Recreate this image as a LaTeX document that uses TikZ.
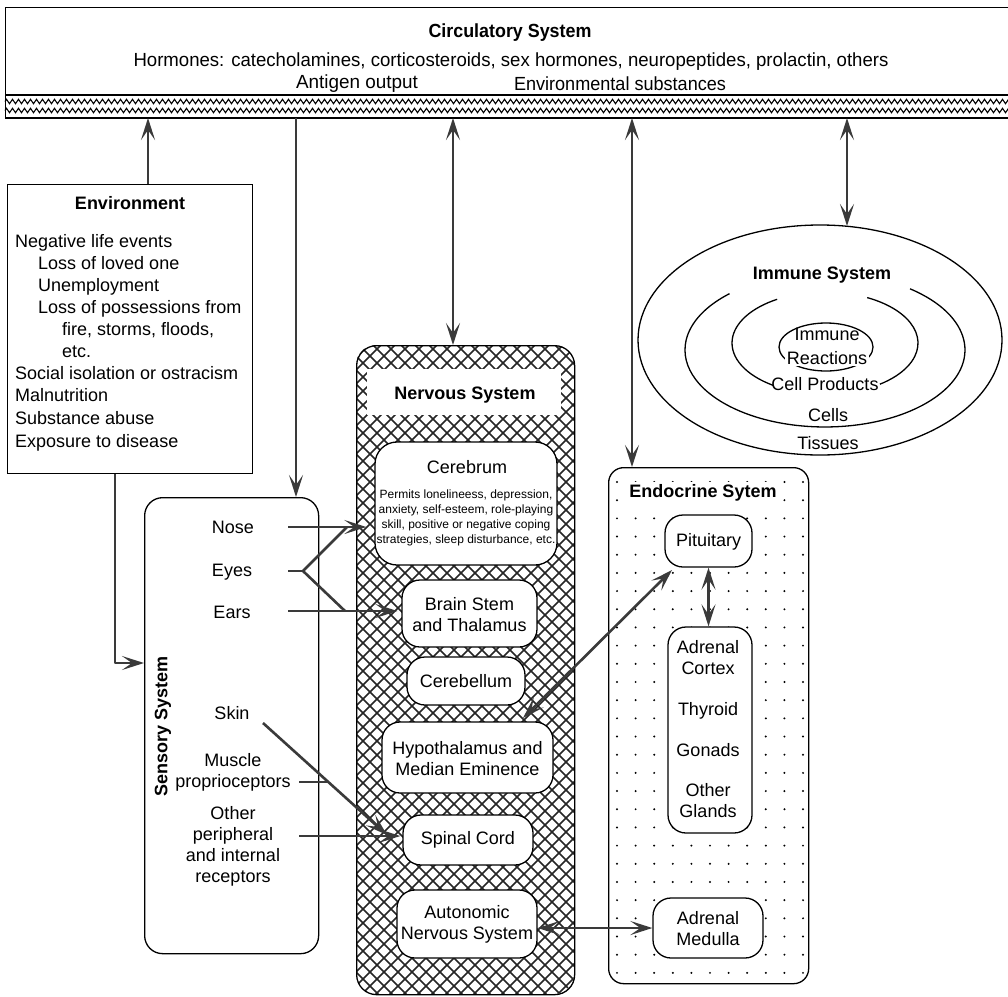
\documentclass[tikz,border=0pt]{standalone}
\usepackage{graphicx}
\usepackage{fontspec}
\setmainfont{Liberation Sans}
\usetikzlibrary{arrows.meta,shapes.geometric,decorations.pathmorphing,calc}
\definecolor{conncol}{HTML}{3A3A3A}
\begin{document}
\begin{tikzpicture}[x=1pt,y=-1pt,
  frame/.style={draw=black, line width=1.3pt, inner sep=0pt},
  box/.style={draw=black, line width=1.3pt, fill=white, rounded corners=18pt, inner sep=0pt},
  tip/.tip={Stealth[length=22pt,width=14pt,inset=10pt]},
  conn/.style={draw=conncol, line width=2.6pt, line join=round, -tip},
  biconn/.style={draw=conncol, line width=2.6pt, tip-tip},
  plain/.style={draw=conncol, line width=2.6pt, line join=round},
  lbl/.style={font=\fontsize{18}{21}\selectfont, inner sep=0pt, align=center},
  ttl/.style={font=\bfseries\fontsize{18}{21}\selectfont, inner sep=0pt},
  small/.style={font=\fontsize{12}{15}\selectfont, inner sep=0pt, align=center},
  envtxt/.style={font=\fontsize{18}{21}\selectfont, inner sep=0pt, anchor=base west},
]
\useasboundingbox (0,0) rectangle (1008,996);
\fill[white] (0,0) rectangle (1008,996);

% ---------------- Circulatory system ----------------
\node[frame, anchor=north west, minimum width=1010pt, minimum height=111pt] (circ) at (5,7) {};
\draw[line width=1.3pt] (5,95) -- (1012,95);
\draw[line width=1.1pt, decorate, decoration={zigzag, segment length=6pt, amplitude=2.2pt}] (5,101.5) -- (1012,101.5);
\draw[line width=1.1pt, decorate, decoration={zigzag, segment length=6pt, amplitude=2.2pt}] (5,110.5) -- (1012,110.5);
\draw[line width=1.8pt] (5,118) -- (1012,118);
\node[ttl] (ct) at (510,33) {\resizebox{163pt}{\height}{\fontsize{19}{21}\selectfont Circulatory System}};
\node[lbl] (ch) at (511,62) {\resizebox{755pt}{\height}{\fontsize{19}{21}\selectfont Hormones: catecholamines, corticosteroids, sex hormones, neuropeptides, prolactin, others}};
\node[lbl] (ca) at (357,84) {\resizebox{122pt}{\height}{\fontsize{19}{21}\selectfont Antigen output}};
\node[lbl] (ce) at (620,84) {\resizebox{212pt}{\height}{\fontsize{19}{21}\selectfont Environmental substances}};

\coordinate (b1) at (148,118);
\coordinate (b2) at (296,118);
\coordinate (b3) at (453,118);
\coordinate (b4) at (632,118);
\coordinate (b5) at (847,118);

% ---------------- Environment ----------------
\node[frame, fill=white, anchor=north west, minimum width=245pt, minimum height=289pt] (env) at (7,184) {};
\node[ttl] (envt) at (130,203) {Environment};
\node[envtxt] (e1) at (15,247) {Negative life events};
\node[envtxt] (e2) at (38,269) {Loss of loved one};
\node[envtxt] (e3) at (38,291) {Unemployment};
\node[envtxt] (e4) at (38,313) {Loss of possessions from};
\node[envtxt] (e5) at (62,335) {fire, storms, floods,};
\node[envtxt] (e6) at (62,357) {etc.};
\node[envtxt] (e7) at (15,379) {Social isolation or ostracism};
\node[envtxt] (e8) at (15,401) {Malnutrition};
\node[envtxt] (e9) at (15,424) {Substance abuse};
\node[envtxt] (e10) at (15,447) {Exposure to disease};

% ---------------- Sensory system ----------------
\node[box, anchor=north west, minimum width=174pt, minimum height=456pt] (sens) at (144,497) {};
\node[ttl, rotate=90] (senst) at (163,726) {Sensory System};
\node[lbl] (nose) at (233,527) {Nose};
\node[lbl] (eyes) at (232,572) {Eyes};
\node[lbl] (ears) at (232,612) {Ears};
\node[lbl] (skin) at (232,713) {Skin};
\node[lbl] (muscle) at (233,772) {Muscle\\proprioceptors};
\node[lbl] (other) at (233,846) {Other\\peripheral\\and internal\\receptors};

% ---------------- Nervous system ----------------
\begin{scope}
  \clip[rounded corners=20pt] (356,345) rectangle (574,994);
  \foreach \c in {-644,-630,...,232} {
    \draw[black!85, line width=1.6pt] (\c+345,345) -- (\c+995,995);
  }
  \foreach \d in {698,712,...,1572} {
    \draw[black!85, line width=1.6pt] (\d-345,345) -- (\d-995,995);
  }
\end{scope}
\node[frame, rounded corners=20pt, anchor=north west, minimum width=218pt, minimum height=649pt] (nerv) at (356,345) {};
\node[fill=white, inner sep=0pt, minimum width=194pt, minimum height=46pt] (nervbg) at (464,392) {};
\node[ttl] (nervt) at (465,395) {Nervous System};

\node[box, rounded corners=22pt, minimum width=182pt, minimum height=123pt] (cereb) at (466,503.5) {};
\node[lbl] (cerebt) at (467,467) {Cerebrum};
\node[small] (cerebs) at (466,517.5) {Permits lonelineess, depression,\\anxiety, self-esteem, role-playing\\skill, positive or negative coping\\strategies, sleep disturbance, etc.};

\node[box, minimum width=135pt, minimum height=67pt] (brain) at (469.5,613.5) {};
\node[lbl] (braint) at (469.5,615) {Brain Stem\\and Thalamus};

\node[box, minimum width=118pt, minimum height=48pt] (cbl) at (466,681) {};
\node[lbl] (cblt) at (466,681) {Cerebellum};

\node[box, minimum width=171pt, minimum height=71pt] (hypo) at (467.5,757.5) {};
\node[lbl] (hypot) at (467.5,759) {Hypothalamus and\\Median Eminence};

\node[box, minimum width=130pt, minimum height=50pt] (spinal) at (468,840) {};
\node[lbl] (spinalt) at (468,840) {Spinal Cord};

\node[box, minimum width=140pt, minimum height=68pt] (auto) at (467,924) {};
\node[lbl] (autot) at (467,924) {Autonomic\\Nervous System};

% ---------------- Endocrine system ----------------
\begin{scope}
  \clip[rounded corners=15pt] (608,467) rectangle (808,983);
  \foreach \i in {0,...,10} {
    \foreach \j in {0,...,27} {
      \fill (617+\i*18.6, 482+\j*18.18) circle (1.1pt);
    }
  }
\end{scope}
\node[frame, rounded corners=15pt, anchor=north west, minimum width=200pt, minimum height=516pt] (endo) at (608,467) {};
\node[ttl, fill=white, inner xsep=6pt, inner ysep=3pt] (endot) at (703,493) {Endocrine Sytem};

\node[box, minimum width=87pt, minimum height=52pt] (pit) at (708.5,541) {};
\node[lbl] (pitt) at (708.5,542) {Pituitary};

\node[box, minimum width=84pt, minimum height=206pt] (gl) at (710,730) {};
\node[lbl] (glt) at (708,729) {Adrenal\\Cortex\\[20pt]Thyroid\\[20pt]Gonads\\[19pt]Other\\Glands};

\node[box, minimum width=110pt, minimum height=60pt] (med) at (708,928) {};
\node[lbl] (medt) at (708,929) {Adrenal\\Medulla};

% ---------------- Immune system ----------------
\node[draw, ellipse, line width=1.3pt, inner sep=0pt, minimum width=364pt, minimum height=230pt] (imm) at (820,340) {};
\draw[line width=1.3pt] (910,288.8) arc[start angle=-52.6, end angle=227, x radius=140, y radius=77];
\draw[line width=1.3pt] (867.2,297.6) arc[start angle=-63, end angle=53.8, x radius=93, y radius=51];
\draw[line width=1.3pt] (773,385.3) arc[start angle=124, end angle=239, x radius=93, y radius=51];
\draw[line width=1.3pt] (826,347) ellipse [x radius=47, y radius=24];
\node[ttl] (immt) at (822,275) {Immune System};
\node[lbl] (immr1) at (827,334) {Immune};
\node[lbl, fill=white, inner xsep=2pt, inner ysep=1pt] (immr2) at (827,358) {Reactions};
\node[lbl] (cellp) at (825,384) {Cell Products};
\node[lbl] (cells) at (828,415) {Cells};
\node[lbl] (tiss) at (828,443) {Tissues};

% ---------------- Connectors ----------------
\draw[conn] (env.north -| b1) -- (b1);
\draw[conn] (b2) -- (b2 |- sens.north);
\draw[biconn] (b3) -- (b3 |- nerv.north);
\draw[biconn] (b4) -- (b4 |- endo.north);
\coordinate (immtop) at (847,226);
\draw[biconn] (b5) -- (immtop);

\coordinate (k1) at (115,663);
\draw[conn] (env.south -| k1) -- (k1) -- (k1 -| sens.west);

\coordinate (nose0) at (288,527);
\draw[conn, shorten >=8pt] (nose0) -- (nose0 -| cereb.west);
\coordinate (ear0) at (288,611);
\draw[conn, shorten >=4pt] (ear0) -- (ear0 -| brain.west);
\coordinate (eye0) at (288,571);
\coordinate (eyej) at (303,571);
\coordinate (eyeup) at (347,527);
\coordinate (eyedn) at (345,611);
\draw[plain] (eyeup) -- (eyej) -- (eyedn);
\draw[plain] (eye0) -- (eyej);

\coordinate (skin0) at (263,723);
\coordinate (skin1) at (387,835);
\draw[conn] (skin0) -- (skin1);
\coordinate (mus0) at (299,782);
\coordinate (musj) at (328,782);
\draw[plain] (mus0) -- (musj);
\coordinate (oth0) at (299,836);
\draw[conn, shorten >=2pt] (oth0) -- (oth0 -| spinal.west);

\coordinate (hp1) at (523,718);
\coordinate (hp2) at (672,570);
\draw[biconn] (hp1) -- (hp2);

\draw[biconn] (pit.south) -- (pit.south |- gl.north);
\draw[biconn] (med.west -| auto.east) -- (med.west);
\end{tikzpicture}
\end{document}
